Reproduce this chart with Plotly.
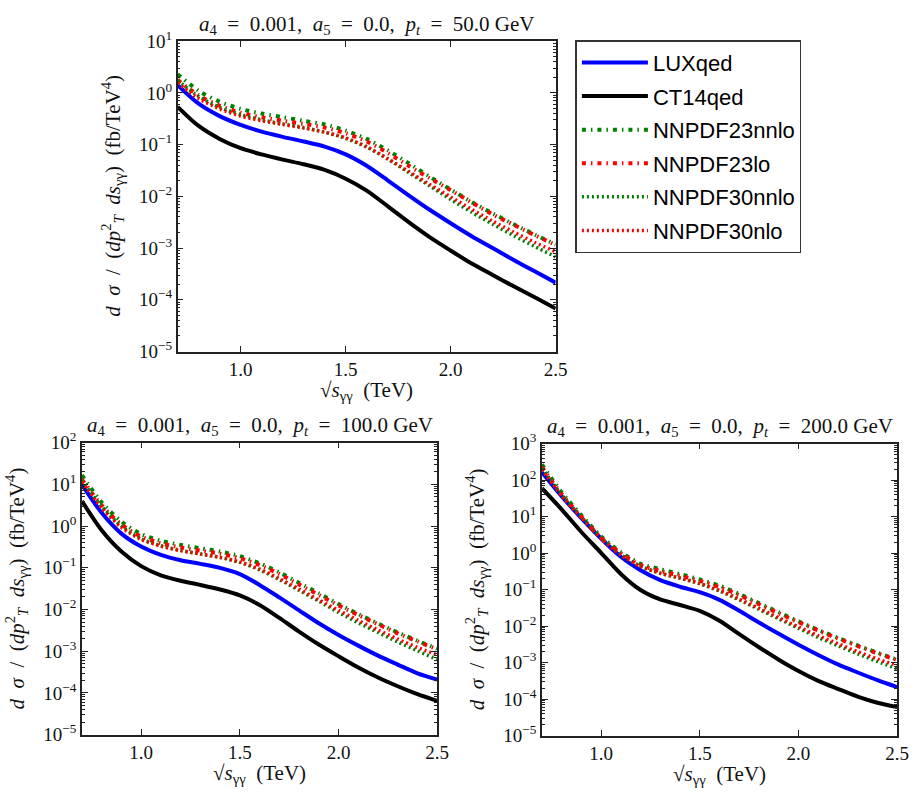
import numpy as np
import plotly.graph_objects as go

W, H = 922, 799

# sqrt(s_gg) in TeV
x_tev = [0.7, 0.8, 0.9, 1.0, 1.1, 1.2, 1.3, 1.4, 1.5, 1.6, 1.7, 1.8, 1.9, 2.0, 2.1, 2.2, 2.3, 2.4, 2.5]

series_names = ["LUXqed", "CT14qed", "NNPDF23nnlo", "NNPDF23lo", "NNPDF30nnlo", "NNPDF30nlo"]

# log10 of dsigma/(dpT^2 ds) in fb/TeV^4
# pt = 50 GeV
pt50_lux   = [0.15, -0.21, -0.45, -0.62, -0.75, -0.85, -0.94, -1.04, -1.19, -1.41, -1.69, -1.98, -2.26, -2.52, -2.77, -3.00, -3.23, -3.45, -3.67]
pt50_ct14  = [-0.27, -0.64, -0.89, -1.07, -1.19, -1.29, -1.38, -1.49, -1.66, -1.89, -2.19, -2.50, -2.79, -3.05, -3.30, -3.52, -3.74, -3.95, -4.17]
pt50_n23nn = [0.36, 0.04, -0.17, -0.31, -0.40, -0.47, -0.54, -0.61, -0.73, -0.89, -1.11, -1.36, -1.62, -1.87, -2.11, -2.33, -2.54, -2.74, -2.93]
pt50_n23lo = [0.25, -0.05, -0.25, -0.385, -0.47, -0.54, -0.60, -0.67, -0.78, -0.94, -1.16, -1.41, -1.65, -1.88, -2.12, -2.35, -2.55, -2.75, -2.94]
pt50_n30nn = [0.24, -0.07, -0.28, -0.42, -0.52, -0.60, -0.67, -0.76, -0.88, -1.05, -1.28, -1.54, -1.80, -2.06, -2.31, -2.54, -2.76, -2.97, -3.17]
pt50_n30nl = [0.19, -0.11, -0.31, -0.45, -0.54, -0.61, -0.68, -0.76, -0.87, -1.04, -1.27, -1.52, -1.77, -2.01, -2.25, -2.48, -2.69, -2.89, -3.07]

# pt = 100 GeV
pt100_lux   = [1.0, 0.32, -0.18, -0.49, -0.69, -0.82, -0.905, -1.0, -1.15, -1.41, -1.71, -2.02, -2.33, -2.61, -2.865, -3.105, -3.32, -3.53, -3.68]
pt100_ct14  = [0.60, -0.10, -0.61, -0.96, -1.18, -1.31, -1.41, -1.52, -1.66, -1.89, -2.20, -2.53, -2.84, -3.12, -3.39, -3.63, -3.84, -4.03, -4.19]
pt100_n23nn = [1.22, 0.57, 0.11, -0.19, -0.35, -0.45, -0.53, -0.61, -0.72, -0.89, -1.11, -1.36, -1.61, -1.87, -2.11, -2.335, -2.55, -2.75, -2.94]
pt100_n23lo = [1.12, 0.50, 0.04, -0.25, -0.41, -0.51, -0.59, -0.66, -0.77, -0.93, -1.15, -1.40, -1.65, -1.90, -2.13, -2.355, -2.57, -2.765, -2.955]
pt100_n30nn = [1.10, 0.47, 0.0, -0.30, -0.47, -0.58, -0.67, -0.75, -0.87, -1.05, -1.28, -1.54, -1.80, -2.07, -2.32, -2.55, -2.78, -2.99, -3.20]
pt100_n30nl = [1.06, 0.44, -0.03, -0.32, -0.48, -0.59, -0.67, -0.75, -0.86, -1.03, -1.26, -1.51, -1.77, -2.02, -2.26, -2.49, -2.71, -2.91, -3.09]

# pt = 200 GeV
pt200_lux   = [2.22, 1.56, 0.96, 0.40, -0.10, -0.47, -0.74, -0.92, -1.07, -1.28, -1.58, -1.90, -2.21, -2.51, -2.79, -3.05, -3.27, -3.48, -3.67]
pt200_ct14  = [1.78, 1.20, 0.58, 0.01, -0.57, -1.01, -1.27, -1.42, -1.58, -1.85, -2.22, -2.58, -2.92, -3.23, -3.50, -3.72, -3.93, -4.10, -4.22]
pt200_n23nn = [2.43, 1.67, 1.04, 0.46, 0.03, -0.29, -0.44, -0.575, -0.72, -0.89, -1.12, -1.37, -1.62, -1.87, -2.105, -2.32, -2.53, -2.73, -2.92]
pt200_n23lo = [2.36, 1.62, 1.00, 0.42, 0.0, -0.33, -0.49, -0.62, -0.76, -0.93, -1.15, -1.40, -1.65, -1.89, -2.12, -2.34, -2.545, -2.745, -2.93]
pt200_n30nn = [2.33, 1.60, 0.99, 0.42, -0.04, -0.36, -0.55, -0.69, -0.84, -1.04, -1.28, -1.54, -1.80, -2.06, -2.31, -2.54, -2.76, -2.97, -3.17]
pt200_n30nl = [2.30, 1.58, 0.98, 0.41, -0.05, -0.36, -0.55, -0.68, -0.83, -1.02, -1.26, -1.51, -1.77, -2.02, -2.26, -2.48, -2.70, -2.90, -3.08]

panel_titles = ["50.0", "100.0", "200.0"]
x_tickvals = [1.0, 1.5, 2.0, 2.5]
x_ticktext = ["1.0", "1.5", "2.0", "2.5"]

panels = [
    [pt50_lux, pt50_ct14, pt50_n23nn, pt50_n23lo, pt50_n30nn, pt50_n30nl],
    [pt100_lux, pt100_ct14, pt100_n23nn, pt100_n23lo, pt100_n30nn, pt100_n30nl],
    [pt200_lux, pt200_ct14, pt200_n23nn, pt200_n23lo, pt200_n30nn, pt200_n30nl],
]
y_top_exp = [1, 2, 3]

styles = [
    dict(color="#0000ff", width=4, dash="solid"),
    dict(color="#000000", width=4, dash="solid"),
    dict(color="#008000", width=4, dash="4px,5px,1.5px,5px"),
    dict(color="#ff0000", width=4, dash="4px,5px,1.5px,5px"),
    dict(color="#008000", width=3.5, dash="2px,3px"),
    dict(color="#ff0000", width=3.5, dash="2px,3px"),
]

# panel pixel boxes: (left, right, top, bottom)
boxes = [(180, 563, 29, 349), (83, 443, 443, 744), (549, 909, 444, 745)]

SERIF = "Liberation Serif"
SP = "\u2002"
fig = go.Figure()

for p, series in enumerate(panels):
    ax = "" if p == 0 else str(p + 1)
    for s, vals in enumerate(series):
        fig.add_trace(go.Scatter(
            x=x_tev, y=np.power(10.0, np.array(vals)),
            mode="lines", line=dict(shape="spline", smoothing=0.8, **styles[s]),
            name=series_names[s], showlegend=(p == 0),
            legendgroup=series_names[s],
            xaxis="x" + ax, yaxis="y" + ax,
        ))

layout = dict(
    width=W, height=H,
    margin=dict(l=0, r=0, t=0, b=0),
    paper_bgcolor="white", plot_bgcolor="white",
    showlegend=True,
    legend=dict(x=583 / W, y=1 - 28 / H, xanchor="left", yanchor="top",
                bordercolor="#333333", borderwidth=1.5, bgcolor="white",
                font=dict(family="Liberation Sans", size=22, color="black"),
                tracegroupgap=2, itemwidth=66),
    annotations=[],
)

for p in range(3):
    l, r, t, b = boxes[p]
    ax = "" if p == 0 else str(p + 1)
    top = y_top_exp[p]
    exps = list(range(-5, top + 1))
    yt_vals = [10.0 ** e for e in exps]
    yt_text = ["10<sup>%s</sup>" % (str(e).replace("-", "\u2212")) for e in exps]
    minor_vals = [k * 10.0 ** e for e in range(-5, top) for k in range(2, 10)]
    layout["xaxis" + ax] = dict(
        domain=[l / W, r / W], anchor="y" + ax, range=[0.7, 2.5],
        tickmode="array", tickvals=x_tickvals, ticktext=x_ticktext,
        ticks="inside", ticklen=6, tickwidth=1, tickcolor="#222",
        showline=True, linecolor="#222", linewidth=1.5, mirror="allticks",
        showgrid=False, zeroline=False,
        tickfont=dict(family=SERIF, size=19, color="#111"),
    )
    layout["yaxis" + ax] = dict(
        domain=[1 - b / H, 1 - t / H], anchor="x" + ax, type="log",
        range=[-5, top],
        tickmode="array", tickvals=yt_vals, ticktext=yt_text,
        ticks="inside", ticklen=6, tickwidth=1, tickcolor="#222",
        minor=dict(tickmode="array", tickvals=minor_vals, ticks="inside",
                   ticklen=3, tickcolor="#222", showgrid=False),
        showline=True, linecolor="#222", linewidth=1.5, mirror="allticks",
        showgrid=False, zeroline=False,
        tickfont=dict(family=SERIF, size=19, color="#111"),
    )
    cx = (l + r) / 2
    layout["annotations"].append(dict(
        text=("<i>a</i><sub>4</sub>" + SP + "=" + SP + "0.001," + SP + "<i>a</i><sub>5</sub>" + SP + "="
              + SP + "0.0," + SP + "<i>p</i><sub><i>t</i></sub>" + SP + "=" + SP + "%s GeV") % panel_titles[p],
        x=cx / W, y=1 - (t - 17) / H, xref="paper", yref="paper",
        xanchor="center", yanchor="middle", showarrow=False,
        font=dict(family=SERIF, size=21, color="#111")))
    layout["annotations"].append(dict(
        text="\u221a<i>s</i><sub>\u03b3\u03b3</sub>" + SP + "(TeV)",
        x=cx / W, y=1 - (b + 41) / H, xref="paper", yref="paper",
        xanchor="center", yanchor="middle", showarrow=False,
        font=dict(family=SERIF, size=21, color="#111")))
    layout["annotations"].append(dict(
        text=("<i>d" + SP + "\u03c3</i>" + SP + "/" + SP + "(<i>dp</i><sup>2</sup><sub><i>T</i></sub>" + SP
              + "<i>ds</i><sub>\u03b3\u03b3</sub>)" + SP + "(fb/TeV<sup>4</sup>)"),
        x=(l - 66) / W, y=1 - ((t + b) / 2) / H, xref="paper", yref="paper",
        xanchor="center", yanchor="middle", textangle=-90, showarrow=False,
        font=dict(family=SERIF, size=21, color="#111")))

fig.update_layout(**layout)
fig.write_html("out.html",
               post_script="document.body.style.margin='0';document.body.style.padding='0';")
